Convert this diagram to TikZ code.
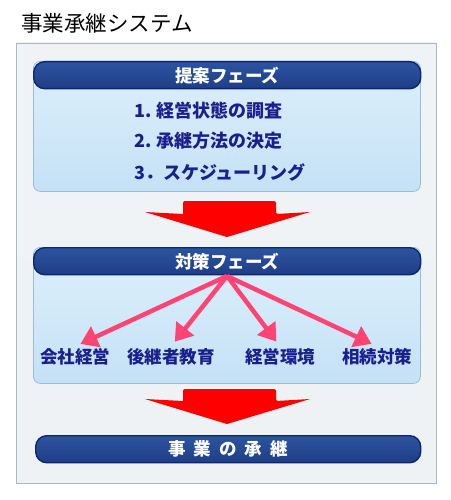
\documentclass[tikz,border=0pt]{standalone}
\usepackage{fontspec}
\newfontfamily\jpfont{Noto Sans CJK JP}
\usepackage{tikz}
\usetikzlibrary{calc,arrows.meta,positioning}
\definecolor{sy-navy}{HTML}{1F3D86}
\definecolor{sy-navytop}{HTML}{2D54A0}
\definecolor{sy-edge}{HTML}{0C2670}
\definecolor{sy-ink}{HTML}{1A1F8E}
\definecolor{sy-frame}{HTML}{A9B8C8}
\definecolor{sy-boxedge}{HTML}{98BCDA}
\definecolor{sy-boxtop}{HTML}{DDF0FC}
\definecolor{sy-boxbot}{HTML}{C5E1F6}
\definecolor{sy-paneltop}{HTML}{EFF3F6}
\definecolor{sy-panelmid}{HTML}{DEE3E9}
\definecolor{sy-panelbot}{HTML}{EEF2F5}
\definecolor{sy-pink}{HTML}{FF4474}
\definecolor{sy-red}{HTML}{FF0000}

\tikzset{
  phasebody/.style={draw=sy-boxedge, line width=0.8pt, rounded corners=7pt,
    top color=sy-boxtop, bottom color=sy-boxbot, anchor=north west,
    minimum width=387, inner sep=0pt},
  phasehead/.style={draw=sy-edge, line width=1.4pt, rounded corners=11pt,
    top color=sy-navytop, bottom color=sy-navy, text=white, anchor=north west,
    minimum width=387, minimum height=27, inner sep=0pt,
    font=\jpfont\bfseries\fontsize{17.5}{19}\selectfont},
  steptext/.style={anchor=west, text=sy-ink, inner sep=0pt,
    font=\jpfont\bfseries\fontsize{18}{20}\selectfont},
  measure/.style={text=sy-ink, inner sep=2pt,
    font=\jpfont\bfseries\fontsize{17.5}{19}\selectfont},
  fanarrow/.style={sy-pink, line width=4.5pt, shorten >=6pt,
    -{Triangle[length=17pt,width=22pt]}},
  bigdown/.style={fill=sy-red, draw=none}
}

\begin{document}
\begin{tikzpicture}[x=1pt,y=-1pt]
    \useasboundingbox (0,0) rectangle (450,500);
    \fill[white] (0,0) rectangle (450,500);
    \node[anchor=west, inner sep=0pt, font=\jpfont\fontsize{21.5}{24}\selectfont] (title) at (21,23) {事業承継システム};
    \draw[draw=sy-frame, line width=0.8pt, top color=sy-paneltop, middle color=sy-panelmid, bottom color=sy-panelbot] (16,43) rectangle (436,483);

    % proposal phase
    \node[phasebody, minimum height=130] (planbox) at (33,61) {};
    \node[phasehead] (planhead) at (33,61) {提案フェーズ};
    \node[steptext] (step1) at (134,111) {1. 経営状態の調査};
    \node[steptext] (step2) at (134,141) {2. 承継方法の決定};
    \node[steptext] (step3) at (134,172) {3．スケジューリング};

    % big arrow 1
    \fill[bigdown, rounded corners=2pt] (183,214) -- (183,201) -- (276,201) -- (276,214) [sharp corners] -- (310,212) -- (227,237) -- (145,212) -- cycle;

    % measures phase
    \node[phasebody, minimum height=136] (actbox) at (33,247) {};
    \node[phasehead] (acthead) at (33,247) {対策フェーズ};
    \coordinate (hub) at (227,276);
    \node[measure] (mgmt) at (75,357) {会社経営};
    \node[measure] (heir) at (171,357) {後継者教育};
    \node[measure] (envt) at (280,357) {経営環境};
    \node[measure] (inherit) at (377,357) {相続対策};
    \foreach \dest in {mgmt,heir,envt,inherit}
        \draw[fanarrow] (hub) -- (\dest.north);

    % big arrow 2
    \fill[bigdown, rounded corners=2pt] (183,401) -- (183,389) -- (276,389) -- (276,401) [sharp corners] -- (310,399) -- (227,424) -- (145,399) -- cycle;

    % result
    \node[phasehead, minimum width=385] (result) at (35,435) {事\hspace{8pt}業\hspace{8pt}の\hspace{8pt}承\hspace{8pt}継};
\end{tikzpicture}
\end{document}
